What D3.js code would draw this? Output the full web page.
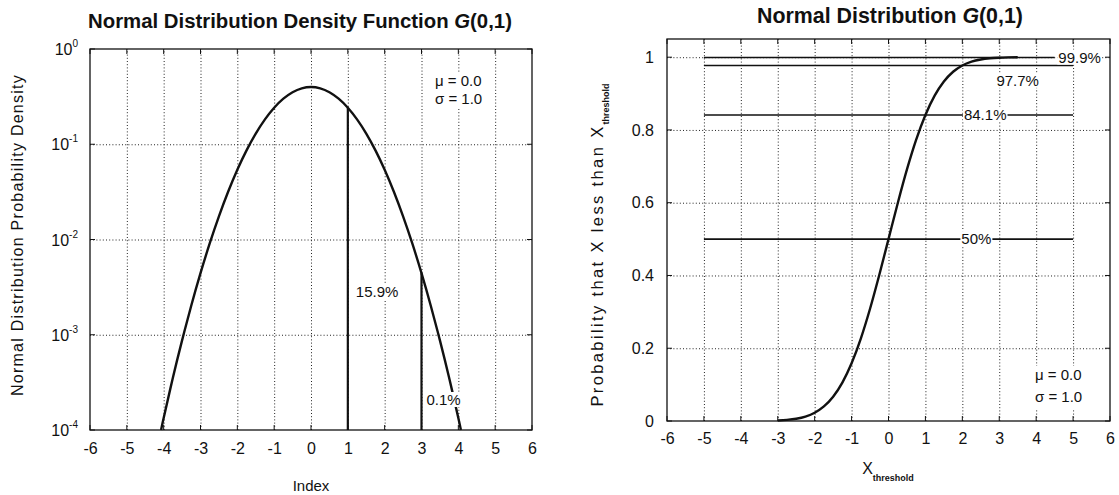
<!DOCTYPE html>
<html>
<head>
<meta charset="utf-8">
<script src="https://cdn.jsdelivr.net/npm/d3@7"></script>
<style>
  body { margin: 0; background: #fff; }
  svg { display: block; }
</style>
</head>
<body>
<svg id="chart" width="1119" height="495"></svg>
<script>
// ---- data ----
// standard normal density, sampled every 0.25 (ends where it meets the 1e-4 floor)
const densityX = [-4.07, -4, -3.75, -3.5, -3.25, -3, -2.75, -2.5, -2.25, -2, -1.75, -1.5, -1.25, -1, -0.75, -0.5, -0.25,
                  0, 0.25, 0.5, 0.75, 1, 1.25, 1.5, 1.75, 2, 2.25, 2.5, 2.75, 3, 3.25, 3.5, 3.75, 4, 4.07];
const densityY = [0.0001, 0.000134, 0.000353, 0.000873, 0.00203, 0.00443, 0.00909, 0.0175, 0.0317, 0.0540, 0.0863, 0.1295, 0.1826, 0.2420, 0.3011, 0.3521, 0.3867,
                  0.3989, 0.3867, 0.3521, 0.3011, 0.2420, 0.1826, 0.1295, 0.0863, 0.0540, 0.0317, 0.0175, 0.00909, 0.00443, 0.00203, 0.000873, 0.000353, 0.000134, 0.0001];
// cumulative probability that X is below the threshold
const cdfX = [-3, -2.75, -2.5, -2.25, -2, -1.75, -1.5, -1.25, -1, -0.75, -0.5, -0.25,
              0, 0.25, 0.5, 0.75, 1, 1.25, 1.5, 1.75, 2, 2.25, 2.5, 2.75, 3, 3.25, 3.5];
const cdfY = [0.00135, 0.00298, 0.00621, 0.01222, 0.02275, 0.04006, 0.06681, 0.10565, 0.15866, 0.22663, 0.30854, 0.40129,
              0.5, 0.59871, 0.69146, 0.77337, 0.84134, 0.89435, 0.93319, 0.95994, 0.97725, 0.98778, 0.99379, 0.99702, 0.99865, 0.99942, 0.99977];
const xTicks = [-6, -5, -4, -3, -2, -1, 0, 1, 2, 3, 4, 5, 6];
const decadeExponents = [0, -1, -2, -3, -4];
const probTicks = [0, 0.2, 0.4, 0.6, 0.8, 1];
const tailCuts = [1, 3];
const tailLabels = ["15.9%", "0.1%"];
const levels = [0.5, 0.841, 0.977, 0.999];
const levelLabels = ["50%", "84.1%", "97.7%", "99.9%"];
const paramLines = ["\u03bc = 0.0", "\u03c3 = 1.0"];

// ---- drawing ----
const FONT = '"Liberation Sans", Arial, sans-serif';
const INK = "#111";
const svg = d3.select("#chart").style("font-family", FONT);

function gridStyle(sel) {
  sel.attr("stroke", "#222").attr("stroke-width", 1).attr("stroke-dasharray", "1,2.2").attr("fill", "none");
}

// text with a white patch behind it, so the lines underneath are interrupted
function patchedText(g, x, y, str, anchor, size, pad) {
  const grp = g.append("g");
  const t = grp.append("text").attr("x", x).attr("y", y).attr("text-anchor", anchor)
    .attr("font-size", size).attr("fill", INK).text(str);
  const b = t.node().getBBox();
  grp.insert("rect", "text").attr("x", b.x - pad).attr("y", b.y + 1).attr("width", b.width + 2 * pad)
    .attr("height", b.height - 2).attr("fill", "#fff");
  return grp;
}

function fitWidth(sel, width) {
  const w = sel.node().getComputedTextLength();
  const fs = parseFloat(sel.attr("font-size"));
  sel.attr("font-size", (fs * width / w).toFixed(2));
}

// widen a label to a given length by spacing its letters
function spreadTo(sel, width) {
  const w = sel.node().getComputedTextLength();
  const n = sel.text().length;
  sel.attr("letter-spacing", Math.max(0, (width - w) / n).toFixed(2));
}

function frameAndTicks(g, box, xs, xVals, yPos) {
  // inner tick marks on all four sides
  xVals.forEach(v => {
    const x = xs(v);
    g.append("line").attr("x1", x).attr("x2", x).attr("y1", box.y1).attr("y2", box.y1 - 5).attr("stroke", INK);
    g.append("line").attr("x1", x).attr("x2", x).attr("y1", box.y0).attr("y2", box.y0 + 5).attr("stroke", INK);
  });
  yPos.forEach(y => {
    g.append("line").attr("x1", box.x0).attr("x2", box.x0 + 5).attr("y1", y).attr("y2", y).attr("stroke", INK);
    g.append("line").attr("x1", box.x1).attr("x2", box.x1 - 5).attr("y1", y).attr("y2", y).attr("stroke", INK);
  });
  g.append("rect").attr("x", box.x0).attr("y", box.y0).attr("width", box.x1 - box.x0)
    .attr("height", box.y1 - box.y0).attr("fill", "none").attr("stroke", INK).attr("stroke-width", 1.3);
}

const intLabel = d => String(d);

// ===== left panel: density on a log axis =====
const L = { x0: 90, x1: 532, y0: 49, y1: 430 };
const xL = d3.scaleLinear().domain([-6, 6]).range([L.x0, L.x1]);
const yL = d3.scaleLog().domain([1e-4, 1]).range([L.y1, L.y0]);
const gL = svg.append("g");

// grid
gL.append("g").attr("transform", `translate(0,${L.y1})`)
  .call(d3.axisBottom(xL).tickValues(xTicks.slice(1, -1)).tickSize(-(L.y1 - L.y0)).tickFormat(""))
  .call(a => { a.select(".domain").remove(); a.selectAll("line").call(gridStyle); });
gL.append("g").attr("transform", `translate(${L.x0},0)`)
  .call(d3.axisLeft(yL).tickValues(decadeExponents.slice(1, -1).map(e => Math.pow(10, e))).tickSize(-(L.x1 - L.x0)).tickFormat(""))
  .call(a => { a.select(".domain").remove(); a.selectAll("line").call(gridStyle); });

// tail cut lines
tailCuts.forEach(c => {
  const i = densityX.indexOf(c);
  gL.append("line").attr("x1", xL(c)).attr("x2", xL(c)).attr("y1", yL(1e-4)).attr("y2", yL(densityY[i]))
    .attr("stroke", INK).attr("stroke-width", 2.2);
});

// density curve
gL.append("path").datum(densityX.map((x, i) => [x, densityY[i]]))
  .attr("d", d3.line().x(d => xL(d[0])).y(d => yL(d[1])).curve(d3.curveNatural))
  .attr("fill", "none").attr("stroke", INK).attr("stroke-width", 2.4);

// tail labels
patchedText(gL, xL(1) + 8, 297, tailLabels[0], "start", 15, 1);
patchedText(gL, xL(3) + 5, 405, tailLabels[1], "start", 15, 1);

// parameters
const pL = gL.append("g");
paramLines.forEach((s, i) => pL.append("text").attr("x", 435).attr("y", 86 + i * 18).attr("font-size", 15).attr("fill", INK).text(s));
{
  const b = pL.node().getBBox();
  pL.insert("rect", "text").attr("x", b.x - 2).attr("y", b.y).attr("width", b.width + 4).attr("height", b.height).attr("fill", "#fff");
}

frameAndTicks(gL, L, xL, xTicks, decadeExponents.map(e => yL(Math.pow(10, e))));

// x tick labels
gL.append("g").attr("transform", `translate(0,${L.y1})`)
  .call(d3.axisBottom(xL).tickValues(xTicks).tickSize(0).tickPadding(13).tickFormat(intLabel))
  .call(a => {
    a.select(".domain").remove();
    a.selectAll("text").attr("font-family", FONT).attr("font-size", 16).attr("fill", INK);
  });
// y tick labels as powers of ten
decadeExponents.forEach(e => {
  const t = gL.append("text").attr("x", 78).attr("y", yL(Math.pow(10, e)) + 6).attr("text-anchor", "end")
    .attr("font-size", 16).attr("fill", INK);
  t.append("tspan").text("10");
  t.append("tspan").attr("dy", -8).attr("font-size", 10).text(String(e));
});

// titles
fitWidth(gL.append("text").attr("x", 300).attr("y", 28).attr("text-anchor", "middle").attr("font-size", 17)
  .attr("font-weight", "bold").attr("fill", INK)
  .call(t => { t.append("tspan").text("Normal Distribution Density Function "); t.append("tspan").attr("font-style", "italic").text("G"); t.append("tspan").text("(0,1)"); }), 424);
gL.append("text").attr("x", xL(0)).attr("y", 491).attr("text-anchor", "middle").attr("font-size", 15).attr("fill", INK).text("Index");
spreadTo(gL.append("text").attr("transform", "translate(23,235) rotate(-90)").attr("text-anchor", "middle")
  .attr("font-size", 16).attr("fill", INK).text("Normal Distribution Probability Density"), 322);

// ===== right panel: cumulative probability =====
const R = { x0: 667, x1: 1110, y0: 39, y1: 421 };
const xR = d3.scaleLinear().domain([-6, 6]).range([R.x0, R.x1]);
const yR = d3.scaleLinear().domain([0, 1.05]).range([R.y1, R.y0]);
const gR = svg.append("g");

gR.append("g").attr("transform", `translate(0,${R.y1})`)
  .call(d3.axisBottom(xR).tickValues(xTicks.slice(1, -1)).tickSize(-(R.y1 - R.y0)).tickFormat(""))
  .call(a => { a.select(".domain").remove(); a.selectAll("line").call(gridStyle); });
gR.append("g").attr("transform", `translate(${R.x0},0)`)
  .call(d3.axisLeft(yR).tickValues(probTicks.slice(1)).tickSize(-(R.x1 - R.x0)).tickFormat(""))
  .call(a => { a.select(".domain").remove(); a.selectAll("line").call(gridStyle); });

// probability levels with their labels sitting on the lines
const levelEnds = [5, 5, 5, 4.5];
levels.forEach((v, i) => {
  gR.append("line").attr("x1", xR(-5)).attr("x2", xR(levelEnds[i])).attr("y1", yR(v)).attr("y2", yR(v))
    .attr("stroke", INK).attr("stroke-width", 1.6);
});

// CDF curve
gR.append("path").datum(cdfX.map((x, i) => [x, cdfY[i]]))
  .attr("d", d3.line().x(d => xR(d[0])).y(d => yR(d[1])).curve(d3.curveMonotoneX))
  .attr("fill", "none").attr("stroke", INK).attr("stroke-width", 2.4);

const levelLabelAt = [[2.38, 0], [2.62, 0], [3.5, -0.042], [4.6, 0]];
levels.forEach((v, i) => {
  const [lx, dy] = levelLabelAt[i];
  const anchor = i === 3 ? "start" : "middle";
  patchedText(gR, xR(lx), yR(v + dy) + 5, levelLabels[i], anchor, 15, 1);
});

const pR = gR.append("g");
paramLines.forEach((s, i) => pR.append("text").attr("x", 1035).attr("y", 380 + i * 22).attr("font-size", 15).attr("fill", INK).text(s));
{
  const b = pR.node().getBBox();
  pR.insert("rect", "text").attr("x", b.x - 2).attr("y", b.y).attr("width", b.width + 4).attr("height", b.height + 4).attr("fill", "#fff");
}

frameAndTicks(gR, R, xR, xTicks, probTicks.map(v => yR(v)));

gR.append("g").attr("transform", `translate(0,${R.y1})`)
  .call(d3.axisBottom(xR).tickValues(xTicks).tickSize(0).tickPadding(12).tickFormat(intLabel))
  .call(a => {
    a.select(".domain").remove();
    a.selectAll("text").attr("font-family", FONT).attr("font-size", 16).attr("fill", INK);
  });
gR.append("g").attr("transform", `translate(${R.x0 - 13},0)`)
  .call(d3.axisLeft(yR).tickValues(probTicks).tickSize(0).tickPadding(0).tickFormat(d => d === 0 || d === 1 ? String(d) : d.toFixed(1)))
  .call(a => {
    a.select(".domain").remove();
    a.selectAll("text").attr("font-family", FONT).attr("font-size", 16).attr("fill", INK);
  });

fitWidth(gR.append("text").attr("x", 890).attr("y", 23).attr("text-anchor", "middle").attr("font-size", 17)
  .attr("font-weight", "bold").attr("fill", INK)
  .call(t => { t.append("tspan").text("Normal Distribution "); t.append("tspan").attr("font-style", "italic").text("G"); t.append("tspan").text("(0,1)"); }), 266);

// x axis title with subscript
gR.append("text").attr("x", 888).attr("y", 474).attr("text-anchor", "middle").attr("fill", INK)
  .call(t => { t.append("tspan").attr("font-size", 16).text("X"); t.append("tspan").attr("dy", 7).attr("font-size", 9).attr("font-weight", "bold").text("threshold"); });
// y axis title with subscript
{
  const yt = gR.append("text").attr("transform", "translate(603,245) rotate(-90)").attr("text-anchor", "middle").attr("fill", INK);
  const main = yt.append("tspan").attr("font-size", 16.5).text("Probability that X less than X");
  spreadTo(main, 282);
  yt.append("tspan").attr("dy", 6).attr("font-size", 9).attr("font-weight", "bold").attr("letter-spacing", 0).text("threshold");
}
</script>
</body>
</html>
